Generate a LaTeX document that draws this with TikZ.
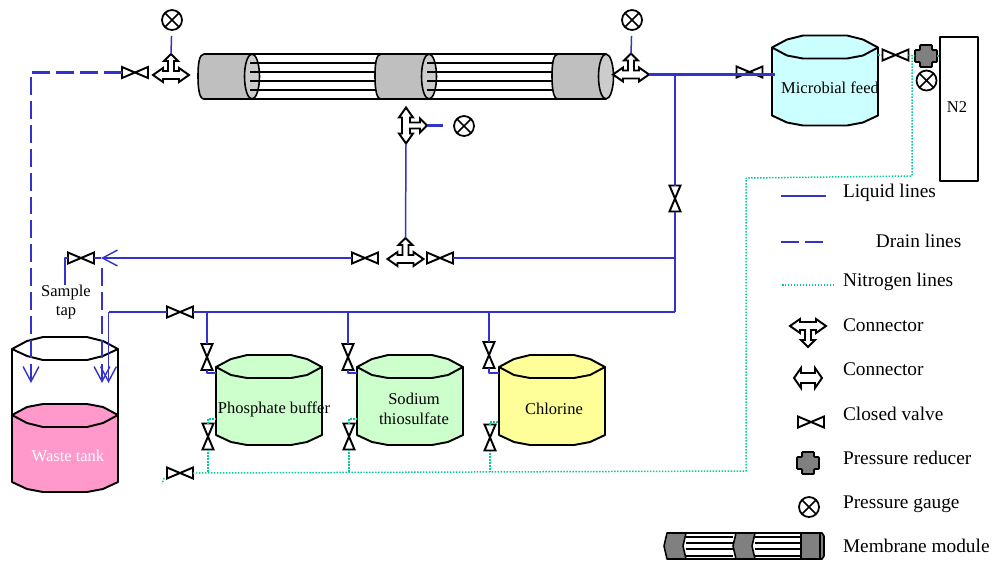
\documentclass[tikz,border=0pt]{standalone}
\usepackage{fontspec}
\setmainfont{Liberation Serif}
\usetikzlibrary{arrows.meta}
\definecolor{liqblue}{RGB}{51,51,204}
\definecolor{nitgreen}{RGB}{0,204,153}
\definecolor{feedcyan}{RGB}{204,255,255}
\definecolor{buffgreen}{RGB}{204,255,204}
\definecolor{chloryel}{RGB}{255,255,153}
\definecolor{wastepink}{RGB}{255,153,204}
\tikzset{
  liquid/.style={liqblue,line width=1.5pt},
  liqthin/.style={liqblue,line width=0.85pt},
  drain/.style={liqblue,line width=1.4pt,dash pattern=on 10.2pt off 3.4pt},
  nitro/.style={nitgreen,line width=0.85pt,dash pattern=on 0.85pt off 0.85pt},
  openhead/.style={-{Straight Barb[length=8.5pt,width=9pt,line width=0.8pt]}},
  lbl/.style={anchor=base west,inner sep=0pt,font=\fontsize{11pt}{13pt}\selectfont},
  tanktxt/.style={align=center,inner sep=0pt,font=\fontsize{9.4pt}{11pt}\selectfont},
  gauge/.style={circle,draw=black,line width=1.0pt,fill=white,inner sep=0pt,minimum size=0.40cm,
    path picture={\draw[line width=0.85pt] (path picture bounding box.north west) -- (path picture bounding box.south east)
      (path picture bounding box.north east) -- (path picture bounding box.south west);}},
  pics/valve/.style={code={
    \draw[black,line width=1.1pt,line join=miter] (-13,-5.5) -- (13,5.5) -- (13,-5.5) -- (-13,5.5) -- cycle;
    \coordinate (-w) at (-13,0);
    \coordinate (-e) at (13,0);
  }},
  pics/conn/.style={code={
    \draw[black,fill=white,line width=1.1pt,line join=miter] (0,-14) -- (7,-7) -- (3,-7) -- (3,3) -- (8,3) -- (8,0) -- (18,7)
      -- (8,14) -- (8,11) -- (-8,11) -- (-8,14) -- (-18,7) -- (-8,0) -- (-8,3) -- (-3,3) -- (-3,-7) -- (-7,-7) -- cycle;
    \coordinate (-w) at (-18,7);
    \coordinate (-e) at (18,7);
    \coordinate (-t) at (0,-14);
  }},
  pics/reducer/.style={code={
    \draw[black,fill=black!50,line width=1.1pt,rounded corners=0.5pt] (-11,-6) -- (-6,-6) -- (-6,-11) -- (6,-11) -- (6,-6) -- (11,-6)
      -- (11,6) -- (6,6) -- (6,11) -- (-6,11) -- (-6,6) -- (-11,6) -- cycle;
    \coordinate (-w) at (-11,0);
    \coordinate (-e) at (11,0);
  }},
  pics/tank/.style={code={
    \draw[black,fill=#1,line width=1.1pt] (-53,0) -- (-38,-8) -- (-22,-12) -- (22,-12) -- (38,-8) -- (53,0) -- (53,68) -- (38,75)
      -- (22,78) -- (-22,78) -- (-38,75) -- (-53,68) -- cycle;
    \draw[black,line width=1.1pt] (-53,0) -- (-38,8) -- (-22,11) -- (22,11) -- (38,8) -- (53,0);
    \coordinate (-p) at (-53,6);
    \coordinate (-q) at (-53,52);
  }},
}
\begin{document}
\begin{tikzpicture}[x=0.02cm,y=-0.02cm,line cap=butt,line join=round]
\useasboundingbox (0,0) rectangle (993,562);
% membrane module
\foreach \l/\f in {198/252,375/429,552/606}{
  \draw[black,fill=black!25,line width=0.9pt] (\l+6,54) -- (\f,54) -- (\f,99) -- (\l+6,99) .. controls (\l+1,99) and (\l,87) .. (\l,76)
    .. controls (\l,65) and (\l+1,54) .. (\l+6,54) -- cycle;
  \draw[black,fill=black!20,line width=0.9pt] (\f,76.5) ellipse [x radius=0.15cm,y radius=0.45cm];
}
\draw[black,line width=1.1pt] (204,54) -- (606,54) (204,99) -- (606,99);
\foreach \y in {63,72,81,90}{
  \draw[black,line width=1.1pt] (250,\y) -- (375.5,\y) (427,\y) -- (552.5,\y);
}
% tanks
\draw[black,fill=wastepink,line width=1.1pt] (12,415) -- (12,482) -- (27,489) -- (43,492) -- (87,492) -- (103,489) -- (118,482) -- (118,415) -- cycle;
\draw[black,line width=0.8pt] (12,349) -- (12,415) (118,349) -- (118,415);
\draw[black,fill=white,line width=1.1pt] (12,349) -- (27,341) -- (43,337) -- (87,337) -- (103,341) -- (118,349) -- (103,356) -- (87,360) -- (43,360) -- (27,356) -- cycle;
\draw[black,fill=wastepink,line width=1.1pt] (12,415) -- (27,407) -- (43,404) -- (87,404) -- (103,407) -- (118,415) -- (103,423) -- (87,427) -- (43,427) -- (27,423) -- cycle;
\pic (mf) at (825,47.5) {tank=feedcyan};
\pic (pb) at (269,367) {tank=buffgreen};
\pic (st) at (410,367) {tank=buffgreen};
\pic (cl) at (552,367) {tank=chloryel};
\node[tanktxt,text=white] (wastelbl) at (68,456) {Waste tank};
\node[tanktxt] (mflbl) at (830,88) {Microbial feed};
\node[tanktxt] (pblbl) at (274,409) {Phosphate buffer};
\node[tanktxt] (stlbl) at (414,409) {Sodium\\thiosulfate};
\node[tanktxt] (cllbl) at (554,409) {Chlorine};
\node[tanktxt] (taplbl) at (66,302) {Sample\\tap};
\node[draw=black,line width=1.1pt,minimum width=0.76cm,minimum height=2.88cm,inner sep=0pt] (ntwo) at (959,109) {};
\node[tanktxt] (ntwolbl) at (957,107) {N2};
% valves, connectors, gauges
\pic (vtl) at (135,72.5) {valve};
\pic (vfd) at (749.5,72) {valve};
\pic (vnt) at (895.5,55) {valve};
\pic[rotate=90] (vbr) at (675,198.5) {valve};
\pic (vsm) at (81,258) {valve};
\pic (vml) at (365,258) {valve};
\pic (vmr) at (440,258) {valve};
\pic (vlo) at (180,312) {valve};
\pic (vnl) at (180,473) {valve};
\pic[rotate=90] (vpa) at (207,357) {valve};
\pic[rotate=90] (vsa) at (348,357) {valve};
\pic[rotate=90] (vca) at (489,355) {valve};
\pic[rotate=90] (vpb) at (208,436.5) {valve};
\pic[rotate=90] (vsb) at (349,436.5) {valve};
\pic[rotate=90] (vcb) at (490,437.5) {valve};
\pic (ctl) at (171,68) {conn};
\pic (ctr) at (631,67.5) {conn};
\pic (clo) at (405.5,252) {conn};
\pic[rotate=-90] (cmi) at (413,125.5) {conn};
\pic (rnt) at (926,56) {reducer};
\node[gauge] (gtl) at (172,20) {};
\node[gauge] (gtr) at (632,20) {};
\node[gauge] (gmi) at (464,126) {};
\node[gauge] (gnt) at (926.5,80.5) {};
% junctions and free ends
\coordinate (jfd) at (675,74.5);
\coordinate (mfin) at (775,74.5);
\coordinate (jmd) at (675,258);
\coordinate (jlo) at (675,312);
\coordinate (jpa) at (207,312);
\coordinate (jsa) at (348,312);
\coordinate (jca) at (489,312);
\coordinate (lftt) at (108.5,312);
\coordinate (lftb) at (108.5,383);
\coordinate (atip) at (101,258);
\coordinate (dra) at (102,268);
\coordinate (drb) at (102,383);
\coordinate (drc) at (31,72.5);
\coordinate (drd) at (31,383);
\coordinate (tapt) at (65,258);
\coordinate (tapb) at (65,285);
\coordinate (gmend) at (443,125.5);
\coordinate (jnt) at (912,176);
\coordinate (jnc) at (746,178);
\coordinate (jnb) at (746,471);
\coordinate (jnu) at (912,55);
\coordinate (mfout) at (878,55);
\coordinate (clq) at (499,422);
\coordinate (jpn) at (208,473);
\coordinate (jsn) at (349,473);
\coordinate (jcn) at (490,472);
\coordinate (nla) at (164,478);
\coordinate (nlb) at (162,484);
% liquid lines
\draw[liquid] (ctr-e) -- (mfin);
\draw[liqthin] (jfd) -- (vbr-e);
\draw[liqthin] (vbr-w) -- (jlo);
\draw[liquid] (vmr-e) -- (jmd);
\draw[liquid,openhead] (vml-w) -- (atip);
\draw[liqthin] (vsm-e) -- (atip);
\draw[liqthin] (vsm-w) -- (tapt) -- (tapb);
\draw[liquid] (jlo) -- (vlo-e);
\draw[liquid] (vlo-w) -- (lftt);
\draw[liqthin,openhead] (lftt) -- (lftb);
\draw[liqthin] (cmi-e) -- (clo-t);
\draw[liquid] (cmi-t) -- (gmend);
\draw[liqthin,shorten >=0.1cm] (ctl-t) -- (gtl);
\draw[liqthin,shorten >=0.1cm] (ctr-t) -- (gtr);
\foreach \j/\va/\tk in {jpa/vpa/pb,jsa/vsa/st,jca/vca/cl}{
  \draw[liqthin] (\j) -- (\va-e);
  \draw[liquid] (\va-w) |- (\tk-p);
}
% drain lines
\draw[drain,openhead] (vtl-w) -- (drc) -- (drd);
\draw[drain,openhead] (dra) -- (drb);
% nitrogen lines
\draw[nitro] (vnl-e) -- (jnb) -- (jnc) -- (jnt) -- (jnu);
\draw[nitro] (nla) -- (nlb);
\draw[nitro] (mfout) -- (vnt-w);
\draw[nitro] (vnt-e) -- (rnt-w);
\draw[nitro] (rnt-e) -- (ntwo.west |- rnt-e);
\draw[nitro] (vpb-e) |- (pb-q);
\draw[nitro] (vsb-e) |- (st-q);
\draw[nitro] (vcb-e) |- (clq);
\draw[nitro] (vpb-w) -- (jpn);
\draw[nitro] (vsb-w) -- (jsn);
\draw[nitro] (vcb-w) -- (jcn);
% legend
\coordinate (lqa) at (781,196);
\coordinate (lqb) at (826,196);
\coordinate (dra2) at (781,242);
\coordinate (drb2) at (823,242);
\coordinate (nia) at (782,285);
\coordinate (nib) at (835,285);
\draw[liquid] (lqa) -- (lqb);
\draw[drain] (dra2) -- (drb2);
\draw[nitro] (nia) -- (nib);
\pic[rotate=180] (lcn) at (808,333) {conn};
\draw[black,fill=white,line width=1.1pt,line join=miter] (794,378) -- (801,368) -- (801,373) -- (815,373) -- (815,368) -- (822,378) -- (815,388) -- (815,383) -- (801,383) -- (801,388) -- cycle;
\pic (lvl) at (811,422) {valve};
\pic (lrd) at (808,463) {reducer};
\node[gauge] (lgg) at (809,507) {};
\foreach \l/\r in {664/686,733/755}{
  \draw[black,fill=black!50,line width=0.9pt] (\l+3,533) -- (\r,533) -- (\r-3,546) -- (\r,559) -- (\l+3,559) -- (\l,546) -- cycle;
}
\draw[black,fill=black!50,line width=0.9pt] (801,533) -- (822,533) -- (824,536) -- (824,556) -- (822,559) -- (801,559) -- cycle;
\draw[black,line width=0.6pt] (820,533) -- (820,559);
\draw[black,line width=1.1pt] (686,533) -- (801,533) (686,559) -- (801,559);
\foreach \y in {537,543,549,556}{
  \draw[black,line width=0.9pt] (686,\y) -- (733,\y) (755,\y) -- (801,\y);
}
\node[lbl] (t1) at (842.7,197.7) {Liquid lines};
\node[lbl] (t2) at (875.6,247.7) {Drain lines};
\node[lbl] (t3) at (842.7,286.7) {Nitrogen lines};
\node[lbl] (t4) at (842.7,331.5) {Connector};
\node[lbl] (t5) at (842.7,375.5) {Connector};
\node[lbl] (t6) at (842.7,420) {Closed valve};
\node[lbl] (t7) at (842.7,464) {Pressure reducer};
\node[lbl] (t8) at (842.7,508) {Pressure gauge};
\node[lbl] (t9) at (842.7,552.5) {Membrane module};
\end{tikzpicture}
\end{document}
